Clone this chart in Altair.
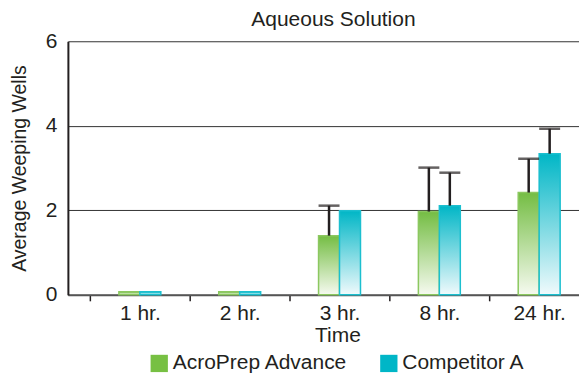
import altair as alt
import pandas as pd

times = ["1 hr.", "2 hr.", "3 hr.", "8 hr.", "24 hr."]
series = ["AcroPrep Advance", "Competitor A"]
acro = [0.07, 0.07, 1.40, 1.97, 2.42]
acro_upper = [None, None, 2.11, 3.01, 3.22]
comp = [0.07, 0.07, 1.99, 2.11, 3.34]
comp_upper = [None, None, None, 2.89, 3.93]
colors = ["#77c043", "#00b6c7"]

rows = []
for t, v, u in zip(times, acro, acro_upper):
    rows.append({"Time": t, "Series": series[0], "value": v, "upper": u})
for t, v, u in zip(times, comp, comp_upper):
    rows.append({"Time": t, "Series": series[1], "value": v, "upper": u})
df = pd.DataFrame(rows)

FONT = "Liberation Sans"
TXT = "#231f20"

xenc = alt.X(
    "Time:N",
    sort=times,
    scale=alt.Scale(paddingInner=0.58, paddingOuter=0.35, align=0.73),
    axis=alt.Axis(
        title="Time", labelAngle=0, domainColor="#555555", domainWidth=2,
        tickColor=TXT, tickWidth=1.5, tickSize=6, labelPadding=2,
        bandPosition=0, tickOffset=-29, labelOffset=29, titlePadding=1,
        titleX=270, labelFontSize=21, titleFontSize=21,
    ),
)
xoff = alt.XOffset("Series:N", sort=series,
                   scale=alt.Scale(domain=series, paddingInner=0, paddingOuter=0))
yenc = alt.Y(
    "value:Q",
    scale=alt.Scale(domain=[0, 6], nice=False),
    axis=alt.Axis(
        values=[0, 2, 4, 6], grid=True, gridColor="#333333", gridWidth=1,
        domainColor=TXT, domainWidth=2, ticks=False, tickSize=0,
        labelPadding=11, title="Average Weeping Wells", titlePadding=16,
        labelFontSize=21, titleFontSize=19.5,
    ),
)

base = alt.Chart(df)

under = base.mark_bar().encode(
    x=xenc, xOffset=xoff, y=yenc,
    color=alt.Color(
        "Series:N", sort=series,
        scale=alt.Scale(domain=series, range=colors),
        legend=alt.Legend(
            title=None, orient="none", legendX=81, legendY=312,
            direction="horizontal", symbolType="square", symbolSize=300,
            symbolStrokeWidth=0, labelFontSize=21, labelFont=FONT,
            labelColor=TXT, columnPadding=30, labelOffset=3, padding=0,
            labelLimit=400,
        ),
    ),
)

g_green = alt.Gradient(
    gradient="linear", x1=0, x2=0, y1=0, y2=1,
    stops=[alt.GradientStop(color="#74bd43", offset=0),
           alt.GradientStop(color="#f6faf0", offset=1)],
)
g_cyan = alt.Gradient(
    gradient="linear", x1=0, x2=0, y1=0, y2=1,
    stops=[alt.GradientStop(color="#00b6c6", offset=0),
           alt.GradientStop(color="#f0fafc", offset=1)],
)

green_bars = base.transform_filter(alt.datum.Series == series[0]).mark_bar(
    fill=g_green, stroke="#8cc860", strokeWidth=1.5
).encode(x=xenc, xOffset=xoff, y=yenc)
cyan_bars = base.transform_filter(alt.datum.Series == series[1]).mark_bar(
    fill=g_cyan, stroke="#1cbfcf", strokeWidth=1.5
).encode(x=xenc, xOffset=xoff, y=yenc)

err = base.transform_filter("isValid(datum.upper)")
rules = err.mark_rule(color=TXT, strokeWidth=2.5).encode(
    x=xenc, xOffset=xoff, y=yenc, y2="upper:Q"
)
caps = err.mark_tick(color=TXT, thickness=2.5, size=21).encode(
    x=xenc, xOffset=xoff, y=alt.Y("upper:Q")
)

chart = alt.layer(under, green_bars, cyan_bars, rules, caps).properties(
    width=512, height=254,
    title=alt.TitleParams("Aqueous Solution", fontSize=21, font=FONT,
                          fontWeight="normal", color=TXT, offset=0, dx=10),
    padding={"left": 1, "top": 1, "right": 0, "bottom": 0},
).configure_view(stroke=None).configure_axis(
    labelFont=FONT, titleFont=FONT,
    labelColor=TXT, titleColor=TXT, titleFontWeight="normal",
)

chart.save("out.html", embed_options={"renderer": "svg", "actions": False})
